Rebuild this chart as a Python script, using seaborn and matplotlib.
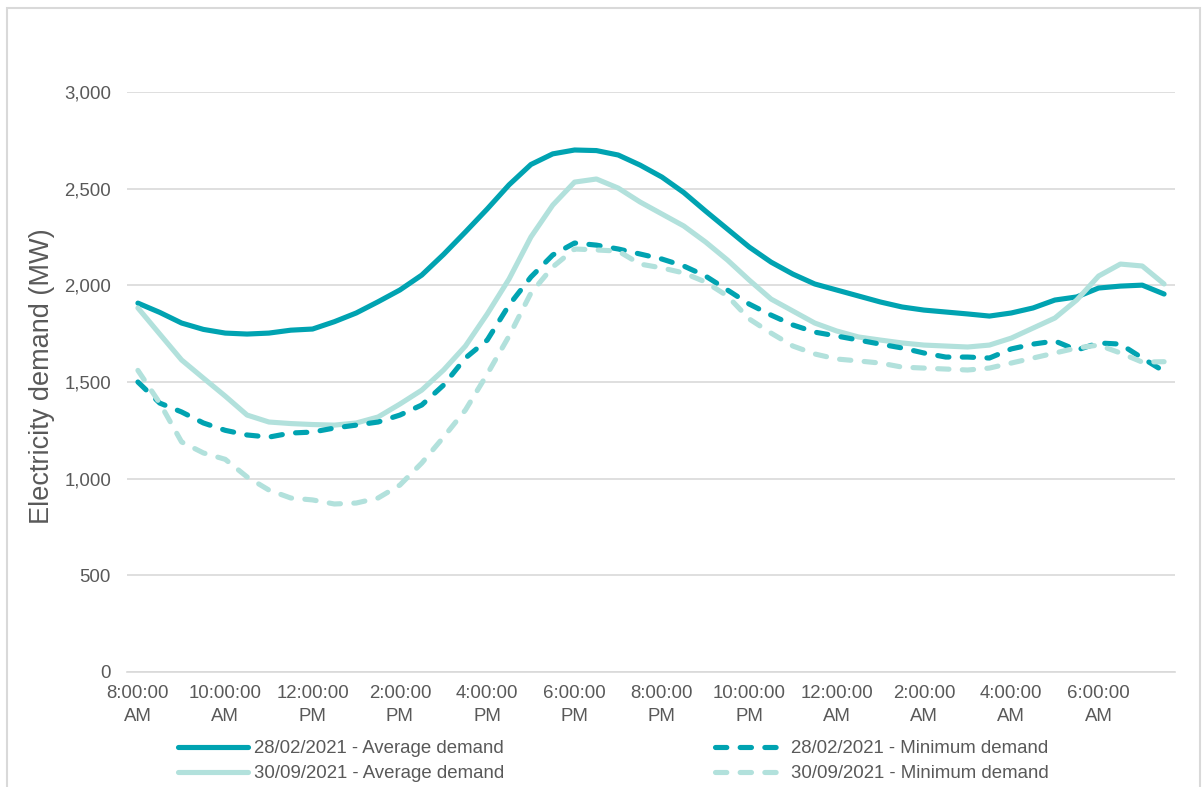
import numpy as np
import pandas as pd
import matplotlib
matplotlib.use('Agg')
import matplotlib.pyplot as plt
from matplotlib.patches import Rectangle
from matplotlib.ticker import FuncFormatter
import seaborn as sns

sns.set_theme(style='white')
plt.rcParams['font.family'] = ['Liberation Sans', 'DejaVu Sans']

# Half-hourly slots from 8:00 AM to 7:30 AM the next day
slots = pd.date_range('2021-01-01 08:00', periods=48, freq='30min')
slot_labels = [t.strftime('%I:%M:%S').lstrip('0') + '\n' + t.strftime('%p') for t in slots]

feb_avg = [1908, 1860, 1805, 1772, 1753, 1748, 1753, 1768, 1774, 1812,
           1857, 1915, 1976, 2053, 2160, 2276, 2395, 2520, 2625, 2680,
           2700, 2697, 2674, 2622, 2560, 2480, 2384, 2291, 2198, 2120,
           2058, 2007, 1976, 1945, 1914, 1888, 1872, 1862, 1852, 1841,
           1857, 1883, 1924, 1940, 1986, 1996, 2001, 1955]
sep_avg = [1883, 1748, 1614, 1520, 1427, 1329, 1293, 1285, 1280, 1277,
           1288, 1319, 1386, 1458, 1562, 1686, 1852, 2033, 2250, 2415,
           2534, 2550, 2503, 2431, 2369, 2307, 2224, 2131, 2027, 1929,
           1867, 1805, 1764, 1733, 1717, 1702, 1691, 1686, 1681, 1691,
           1727, 1779, 1831, 1924, 2048, 2110, 2100, 2007]
feb_min = [1500, 1391, 1345, 1288, 1250, 1226, 1215, 1236, 1241, 1262,
           1277, 1293, 1329, 1381, 1484, 1624, 1717, 1898, 2043, 2157,
           2219, 2208, 2188, 2162, 2136, 2100, 2048, 1976, 1903, 1846,
           1795, 1758, 1738, 1717, 1696, 1676, 1650, 1629, 1629, 1624,
           1671, 1696, 1712, 1665, 1702, 1696, 1624, 1555]
sep_min = [1560, 1391, 1190, 1133, 1100, 1009, 941, 900, 890, 869,
           874, 900, 967, 1081, 1215, 1355, 1541, 1738, 1960, 2095,
           2188, 2183, 2177, 2110, 2090, 2064, 2017, 1945, 1826, 1753,
           1686, 1645, 1619, 1609, 1598, 1577, 1572, 1567, 1562, 1572,
           1598, 1624, 1650, 1676, 1691, 1650, 1603, 1605]

series = [
    ('28/02/2021 - Average demand', feb_avg, '#00A3B1', '-'),
    ('30/09/2021 - Average demand', sep_avg, '#B2E1DC', '-'),
    ('28/02/2021 - Minimum demand', feb_min, '#00A3B1', '--'),
    ('30/09/2021 - Minimum demand', sep_min, '#B2E1DC', '--'),
]

fig = plt.figure(figsize=(12.03, 7.87), dpi=100)
ax = fig.add_axes([127 / 1203, 1 - 672 / 787, 1048 / 1203, 580 / 787])

x = np.arange(len(slots))
for name, vals, color, ls in series:
    sns.lineplot(x=x, y=vals, ax=ax, color=color, linewidth=3.7,
                 label=name, legend=False)
    ln = ax.lines[-1]
    ln.set_solid_capstyle('round')
    ln.set_dash_capstyle('round')
    if ls == '--':
        ln.set_dashes((2.2, 2.6))

grey = '#D9D9D9'
text_col = '#595959'

ax.set_ylim(0, 3000)
ax.set_yticks(range(0, 3001, 500))
ax.yaxis.set_major_formatter(FuncFormatter(lambda v, p: f'{int(v):,}'))
ax.grid(axis='y', color=grey, linewidth=1.2)
ax.set_axisbelow(True)

ax.set_xlim(-0.5, len(slots) - 0.5)
ax.set_xticks(np.arange(-0.5, len(slots), 1.0))
ax.set_xticklabels([])
ax.set_xticks(x, minor=True)
ax.set_xticklabels([lab if i % 4 == 0 else '' for i, lab in enumerate(slot_labels)],
                   minor=True)

for side in ['left', 'right', 'top']:
    ax.spines[side].set_visible(False)
ax.spines['bottom'].set_color(grey)
ax.spines['bottom'].set_linewidth(1.2)

ax.tick_params(axis='y', length=0, pad=11.5, labelsize=13.4, labelcolor=text_col)
ax.tick_params(axis='x', which='major', direction='inout', length=8, width=1.2, color=grey)
ax.tick_params(axis='x', which='minor', direction='in', length=4, width=1.2, color=grey,
               labelsize=13.4, labelcolor=text_col, pad=9.5)
for lab in ax.get_xticklabels(minor=True):
    lab.set_linespacing(1.45)

ax.set_xlabel('')
fig.text(42 / 1203, 1 - 376 / 787, 'Electricity demand (MW)', rotation=90,
         ha='center', va='center', fontsize=19.5, color=text_col)

handles = ax.lines
ax.legend(handles=handles, labels=[s[0] for s in series], ncol=2,
          loc='upper left', bbox_to_anchor=(178 / 1203, 1 - 740 / 787),
          bbox_transform=fig.transFigure, frameon=False, fontsize=13.4,
          handlelength=3.75, handletextpad=0.35, columnspacing=11.3,
          labelspacing=0.45, borderpad=0, borderaxespad=0, labelcolor=text_col)

fig.patches.append(Rectangle((7 / 1203, -0.01), 1193 / 1203, 1 - 8 / 787 + 0.01,
                             transform=fig.transFigure, fill=False,
                             edgecolor=grey, linewidth=1.5, zorder=-1))

fig.savefig('out.png', dpi=100, facecolor='white')
